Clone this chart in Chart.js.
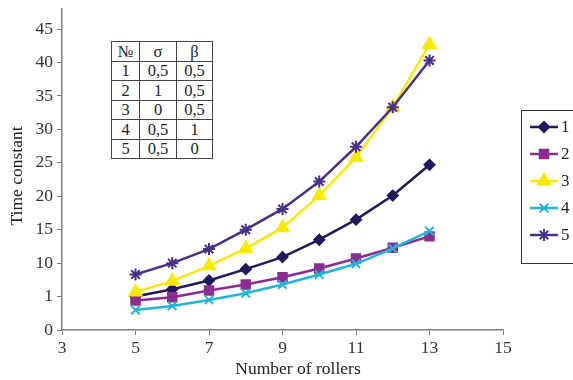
<!DOCTYPE html>
<html>
<head>
<meta charset="utf-8">
<script src="https://cdn.jsdelivr.net/npm/chart.js@4"></script>
<style>
  html, body { margin:0; padding:0; background:#fff; }
  #wrap { position:relative; width:573px; height:380px; }
  canvas { position:absolute; left:0; top:0; }
  table.params { position:absolute; left:111px; top:41px; border-collapse:collapse;
    font-family:"Liberation Serif", "DejaVu Serif", serif; font-size:16.5px; color:#222; background:#fff; }
  table.params td { border:1px solid #444; height:18.5px; padding:0; line-height:17px; text-align:center; }
</style>
</head>
<body>
<div id="wrap">
  <canvas id="c" width="573" height="380"></canvas>
  <table class="params" id="tbl"></table>
</div>
<script>
// ---- data ----
const rollers = [5, 6, 7, 8, 9, 10, 11, 12, 13];
const series1 = [5.0, 6.1, 7.4, 9.1, 10.9, 13.5, 16.5, 20.1, 24.7];
const series2 = [4.4, 4.9, 5.9, 6.8, 7.9, 9.2, 10.7, 12.3, 14.0];
const series3 = [5.7, 7.3, 9.6, 12.2, 15.3, 20.1, 25.8, 33.3, 42.7];
const series4 = [3.0, 3.6, 4.5, 5.5, 6.8, 8.3, 9.9, 12.2, 14.8];
const series5 = [8.3, 10.0, 12.1, 15.0, 18.1, 22.2, 27.4, 33.3, 40.3];
const seriesNames = ['1', '2', '3', '4', '5'];
const yTickValues = [0, 5, 10, 15, 20, 25, 30, 35, 40, 45];
const yTickLabels = ['0', '1', '10', '15', '20', '25', '30', '35', '40', '45'];
const xTickValues = [3, 5, 7, 9, 11, 13, 15];
const xTitle = 'Number of rollers';
const yTitle = 'Time constant';
const tableHeader = ['№', 'σ', 'β'];
const tableNo = ['1', '2', '3', '4', '5'];
const tableSigma = ['0,5', '1', '0', '0,5', '0,5'];
const tableBeta = ['0,5', '0,5', '0,5', '1', '0'];

// ---- table ----
const tbl = document.getElementById('tbl');
const colW = [27, 36, 35];
function addRow(cells) {
  const tr = document.createElement('tr');
  cells.forEach((t, i) => { const td = document.createElement('td'); td.textContent = t; td.style.width = colW[i] + 'px'; tr.appendChild(td); });
  tbl.appendChild(tr);
}
addRow(tableHeader);
tableNo.forEach((n, i) => addRow([n, tableSigma[i], tableBeta[i]]));

// ---- chart ----
const FONT = '"Liberation Serif", "DejaVu Serif", serif';
const styles = [
  { color: '#1f1a5c', pointStyle: 'rectRot', radius: 5 },
  { color: '#8a2c90', pointStyle: 'rect', radius: 6 },
  { color: '#f7ea00', pointStyle: 'triangle', radius: 7 },
  { color: '#22b4d6', pointStyle: 'crossRot', radius: 6 },
  { color: '#4a3088', pointStyle: 'star', radius: 6 }
];
const allSeries = [series1, series2, series3, series4, series5];
const datasets = allSeries.map((s, i) => ({
  label: seriesNames[i],
  data: rollers.map((x, j) => ({ x: x, y: s[j] })),
  borderColor: styles[i].color,
  backgroundColor: styles[i].color,
  pointBackgroundColor: styles[i].color,
  pointBorderColor: styles[i].color,
  pointStyle: styles[i].pointStyle,
  pointRadius: styles[i].radius,
  pointBorderWidth: 2,
  borderWidth: 2.5,
  tension: 0,
  order: 5 - i
}));

const legendPlugin = {
  id: 'boxLegend',
  afterDraw(chart) {
    const ctx = chart.ctx;
    ctx.save();
    // axis titles
    ctx.fillStyle = '#222';
    ctx.font = '17.5px ' + FONT;
    ctx.textAlign = 'center';
    ctx.textBaseline = 'middle';
    ctx.fillText(xTitle, 298, 369);
    ctx.save();
    ctx.translate(17, 176);
    ctx.rotate(-Math.PI / 2);
    ctx.fillText(yTitle, 0, 0);
    ctx.restore();
    // legend
    ctx.strokeStyle = '#333';
    ctx.lineWidth = 1;
    ctx.strokeRect(521.5, 110.5, 80, 153);
    chart.data.datasets.forEach((ds, i) => {
      const y = 127 + i * 27;
      ctx.strokeStyle = ds.borderColor;
      ctx.fillStyle = ds.borderColor;
      ctx.lineWidth = 2.5;
      ctx.beginPath(); ctx.moveTo(530, y); ctx.lineTo(558, y); ctx.stroke();
      ctx.lineWidth = 2;
      if (Chart.helpers && Chart.helpers.drawPoint) {
        Chart.helpers.drawPoint(ctx, { pointStyle: ds.pointStyle, rotation: 0, radius: ds.pointRadius, borderWidth: 2 }, 544, y);
      }
      ctx.fillStyle = '#222';
      ctx.font = '17px ' + FONT;
      ctx.textAlign = 'left';
      ctx.textBaseline = 'middle';
      ctx.fillText(ds.label, 561, y + 1);
    });
    ctx.restore();
  }
};

new Chart(document.getElementById('c'), {
  type: 'line',
  data: { datasets: datasets },
  options: {
    responsive: false,
    animation: false,
    devicePixelRatio: 1,
    layout: { padding: { top: 7, right: 70, left: 0, bottom: 0 } },
    plugins: { legend: { display: false }, tooltip: { enabled: false } },
    scales: {
      x: {
        type: 'linear', min: 3, max: 15,
        afterFit(s) { s.height = 50; },
        afterBuildTicks(s) { s.ticks = xTickValues.map(v => ({ value: v })); },
        ticks: { color: '#333', font: { family: FONT, size: 17.5 }, padding: 3, callback: v => String(v) },
        grid: { display: true, drawOnChartArea: false, drawTicks: true, tickLength: 5, color: '#7f7f7f' },
        border: { color: '#7f7f7f', width: 1.5 },
        title: { display: false }
      },
      y: {
        type: 'linear', min: 0, max: 48,
        afterFit(s) { s.width = 62; s.paddingTop = 0; s.paddingBottom = 0; },
        afterBuildTicks(s) { s.ticks = yTickValues.map(v => ({ value: v })); },
        ticks: { color: '#333', font: { family: FONT, size: 17.5 }, padding: 4,
          callback: (v) => { const k = yTickValues.indexOf(v); return k >= 0 ? yTickLabels[k] : ''; } },
        grid: { display: true, drawOnChartArea: false, drawTicks: true, tickLength: 5, color: '#7f7f7f' },
        border: { color: '#7f7f7f', width: 1.5 },
        title: { display: false }
      }
    }
  },
  plugins: [legendPlugin]
});
</script>
</body>
</html>
